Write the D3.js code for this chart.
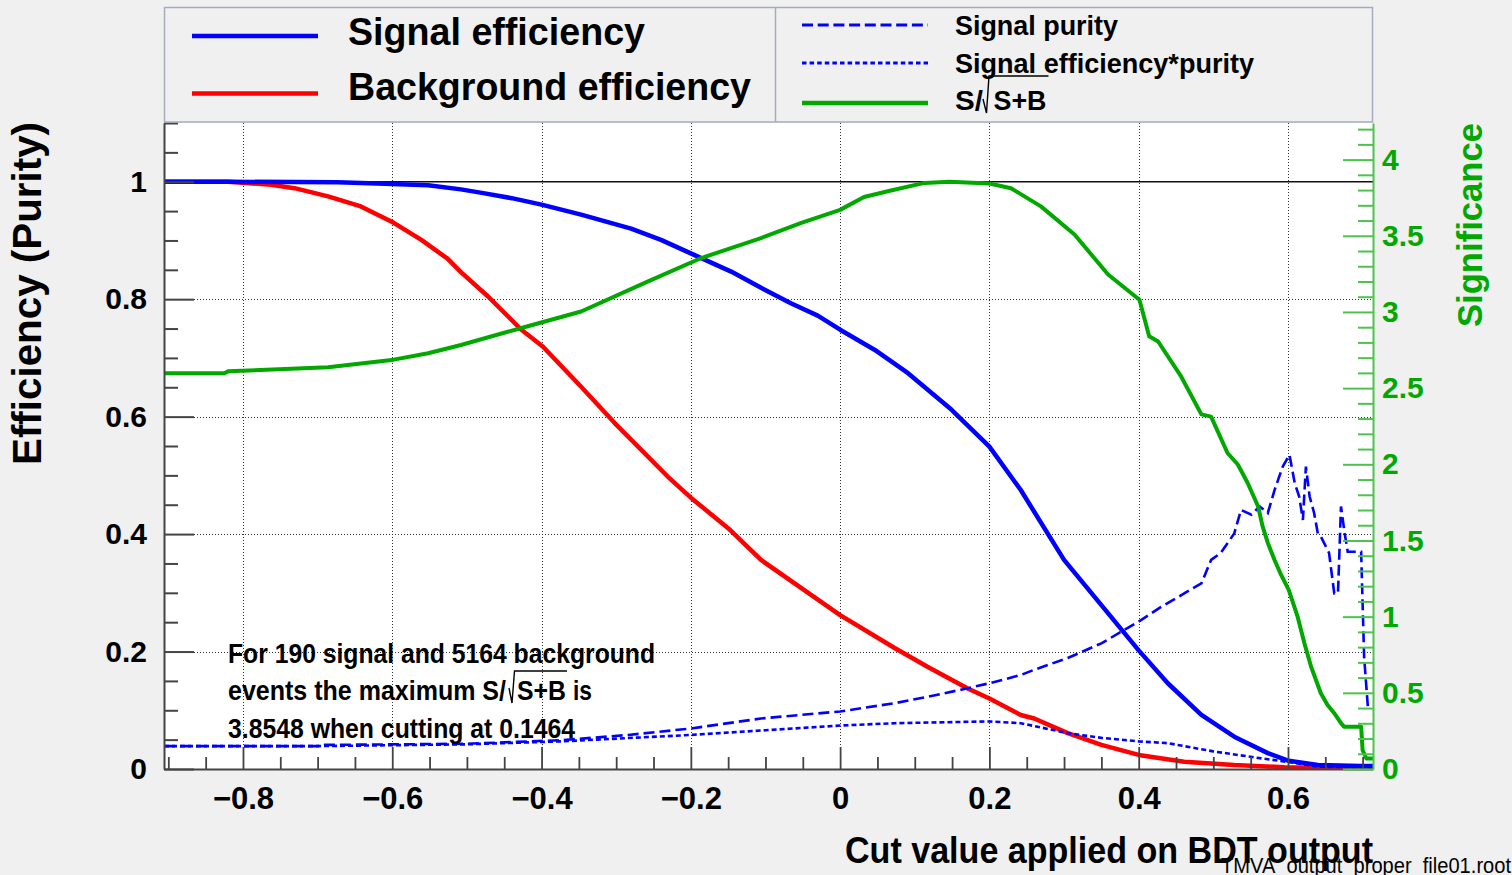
<!DOCTYPE html>
<html>
<head>
<meta charset="utf-8">
<script src="https://cdn.jsdelivr.net/npm/d3@7"></script>
<style>
  html, body { margin: 0; padding: 0; background: #f0f0f0; }
  svg { display: block; }
  text { font-family: "Liberation Sans", Arial, Helvetica, sans-serif; font-weight: bold; }
</style>
</head>
<body>
<svg id="chart" width="1512" height="875"></svg>
<script>
// ---- event counts and optimum cut ----
const nSignal = 190;
const nBackground = 5164;
const maxSignificance = 3.8548;
const optimalCut = 0.1464;

// ---- axis ranges and ticks ----
const cutRange = [-0.9058, 0.7139];
const effRange = [0, 1.1];
const sigRange = [0, maxSignificance * 1.1];

const cutTicks = [-0.8, -0.6, -0.4, -0.2, 0, 0.2, 0.4, 0.6];
const cutTickLabels = ["\u22120.8", "\u22120.6", "\u22120.4", "\u22120.2", "0", "0.2", "0.4", "0.6"];
const effTicks = [0, 0.2, 0.4, 0.6, 0.8, 1];
const effTickLabels = ["0", "0.2", "0.4", "0.6", "0.8", "1"];
const effGrid = [0.2, 0.4, 0.6, 0.8];
const sigTicks = [0, 0.5, 1, 1.5, 2, 2.5, 3, 3.5, 4];
const sigTickLabels = ["0", "0.5", "1", "1.5", "2", "2.5", "3", "3.5", "4"];

// ---- curves: [cut value, value] ----
const signalEfficiency = [
  [-0.9058, 1.000], [-0.82, 1.000], [-0.673, 0.999], [-0.62, 0.997], [-0.552, 0.994],
  [-0.508, 0.987], [-0.48, 0.981], [-0.44, 0.972], [-0.4, 0.961], [-0.347, 0.944],
  [-0.28, 0.920], [-0.24, 0.901], [-0.2, 0.878], [-0.146, 0.847], [-0.101, 0.816],
  [-0.066, 0.793], [-0.03, 0.772], [0, 0.748], [0.046, 0.714], [0.091, 0.674],
  [0.149, 0.612], [0.2, 0.549], [0.242, 0.475], [0.3, 0.356], [0.35, 0.279],
  [0.4, 0.202], [0.439, 0.146], [0.484, 0.092], [0.528, 0.055], [0.573, 0.027],
  [0.601, 0.014], [0.64, 0.007], [0.698, 0.005], [0.7139, 0.005]
];

const backgroundEfficiency = [
  [-0.9058, 1.000], [-0.82, 1.000], [-0.762, 0.995], [-0.731, 0.989], [-0.686, 0.975],
  [-0.642, 0.958], [-0.598, 0.930], [-0.561, 0.901], [-0.526, 0.869], [-0.508, 0.846],
  [-0.472, 0.805], [-0.427, 0.748], [-0.398, 0.719], [-0.347, 0.651], [-0.302, 0.589],
  [-0.231, 0.498], [-0.2, 0.462], [-0.15, 0.410], [-0.106, 0.356], [-0.061, 0.316],
  [0, 0.262], [0.073, 0.206], [0.117, 0.174], [0.171, 0.137], [0.2, 0.120],
  [0.242, 0.092], [0.26, 0.086], [0.305, 0.061], [0.35, 0.041], [0.4, 0.024],
  [0.461, 0.0125], [0.528, 0.0068], [0.595, 0.003], [0.7139, 0.001]
];

const signalPurity = [
  [-0.9058, 0.039], [-0.7, 0.039], [-0.69, 0.041], [-0.5, 0.043], [-0.374, 0.049],
  [-0.284, 0.058], [-0.2, 0.069], [-0.106, 0.086], [0, 0.098], [0.073, 0.112],
  [0.117, 0.123], [0.162, 0.135], [0.2, 0.146], [0.242, 0.160], [0.26, 0.169],
  [0.305, 0.189], [0.35, 0.214], [0.4, 0.251], [0.43, 0.276], [0.461, 0.299],
  [0.484, 0.316], [0.497, 0.356], [0.510, 0.368], [0.528, 0.401], [0.537, 0.441],
  [0.551, 0.433], [0.562, 0.447], [0.573, 0.436], [0.582, 0.475], [0.593, 0.515],
  [0.602, 0.535], [0.609, 0.487], [0.615, 0.464], [0.620, 0.424], [0.624, 0.515],
  [0.629, 0.464], [0.635, 0.436], [0.640, 0.401], [0.644, 0.396], [0.655, 0.368],
  [0.662, 0.299], [0.667, 0.299], [0.671, 0.447], [0.676, 0.401], [0.680, 0.370],
  [0.698, 0.370], [0.702, 0.191], [0.707, 0.106]
];

const signalEffTimesPurity = [
  [-0.9058, 0.039], [-0.7, 0.039], [-0.5, 0.042], [-0.374, 0.047], [-0.2, 0.058],
  [-0.1, 0.066], [0, 0.074], [0.073, 0.078], [0.2, 0.081], [0.242, 0.078],
  [0.305, 0.061], [0.35, 0.053], [0.4, 0.047], [0.439, 0.044], [0.5, 0.030],
  [0.565, 0.018], [0.6, 0.012], [0.64, 0.004], [0.7139, 0.002]
];

// S/sqrt(S+B), in significance units (right axis)
const significance = [
  [-0.9058, 2.598], [-0.825, 2.598], [-0.82, 2.610], [-0.686, 2.637], [-0.598, 2.687],
  [-0.552, 2.729], [-0.508, 2.783], [-0.427, 2.895], [-0.347, 3.003], [-0.258, 3.199],
  [-0.186, 3.354], [-0.106, 3.485], [-0.052, 3.585], [0, 3.670], [0.032, 3.755],
  [0.068, 3.797], [0.113, 3.847], [optimalCut, maxSignificance], [0.2, 3.843], [0.229, 3.812],
  [0.269, 3.693], [0.314, 3.508], [0.359, 3.246], [0.401, 3.080], [0.414, 2.841],
  [0.426, 2.806], [0.457, 2.575], [0.484, 2.328], [0.497, 2.313], [0.519, 2.074],
  [0.533, 1.997], [0.546, 1.877], [0.560, 1.723], [0.566, 1.592], [0.573, 1.484],
  [0.582, 1.372], [0.591, 1.272], [0.601, 1.176], [0.613, 0.998], [0.622, 0.825],
  [0.631, 0.671], [0.644, 0.497], [0.653, 0.420], [0.662, 0.366], [0.671, 0.301],
  [0.675, 0.278], [0.698, 0.278], [0.700, 0.123], [0.705, 0.069], [0.7139, 0.069]
];

// ---- colours ----
const BLUE = "#0000ff", RED = "#ff0000", GREEN = "#00a800", GREEN_AXIS = "#4cc44c";
const AXIS = "#444";

// ---- layout ----
const frame = { left: 164, right: 1373, top: 123, bottom: 769 };

const svg = d3.select("#chart");

const x = d3.scaleLinear().domain(cutRange).range([frame.left, frame.right]);
const yEff = d3.scaleLinear().domain(effRange).range([frame.bottom, frame.top]);
const ySig = d3.scaleLinear().domain(sigRange).range([frame.bottom, frame.top]);

// frame background
svg.append("rect")
  .attr("x", frame.left).attr("y", frame.top)
  .attr("width", frame.right - frame.left).attr("height", frame.bottom - frame.top)
  .attr("fill", "#ffffff");

// dotted grid
const grid = svg.append("g").attr("stroke", "#333").attr("stroke-width", 1)
  .attr("stroke-dasharray", "1,2").attr("fill", "none");
grid.selectAll("line.v").data(cutTicks).join("line")
  .attr("x1", d => Math.round(x(d)) + 0.5).attr("x2", d => Math.round(x(d)) + 0.5)
  .attr("y1", frame.top).attr("y2", frame.bottom);
grid.selectAll("line.h").data(effGrid).join("line")
  .attr("y1", d => Math.round(yEff(d)) + 0.5).attr("y2", d => Math.round(yEff(d)) + 0.5)
  .attr("x1", frame.left).attr("x2", frame.right);

// reference line at efficiency = 1
svg.append("line")
  .attr("x1", frame.left).attr("x2", frame.right)
  .attr("y1", yEff(1)).attr("y2", yEff(1))
  .attr("stroke", "#111").attr("stroke-width", 1.5);

// curves
svg.append("clipPath").attr("id", "frameClip").append("rect")
  .attr("x", frame.left).attr("y", frame.top - 2)
  .attr("width", frame.right - frame.left + 1).attr("height", frame.bottom - frame.top + 3);

const plot = svg.append("g").attr("clip-path", "url(#frameClip)");
const effLine = d3.line().x(d => x(d[0])).y(d => yEff(d[1]));
const sigLine = d3.line().x(d => x(d[0])).y(d => ySig(d[1]));

plot.append("path").datum(backgroundEfficiency).attr("d", effLine)
  .attr("fill", "none").attr("stroke", RED).attr("stroke-width", 4.5).attr("stroke-linejoin", "round");
plot.append("path").datum(signalEfficiency).attr("d", effLine)
  .attr("fill", "none").attr("stroke", BLUE).attr("stroke-width", 4.5).attr("stroke-linejoin", "round");
plot.append("path").datum(signalPurity).attr("d", effLine)
  .attr("fill", "none").attr("stroke", BLUE).attr("stroke-width", 2.6).attr("stroke-dasharray", "11,5");
plot.append("path").datum(signalEffTimesPurity).attr("d", effLine)
  .attr("fill", "none").attr("stroke", BLUE).attr("stroke-width", 2.6).attr("stroke-dasharray", "5,3");
plot.append("path").datum(significance).attr("d", sigLine)
  .attr("fill", "none").attr("stroke", GREEN).attr("stroke-width", 4).attr("stroke-linejoin", "round");

// ---- axes ----
function styleAxis(g, color, width, fontSize) {
  g.attr("font-family", null).attr("font-size", null);
  g.selectAll(".tick line").attr("stroke", color).attr("stroke-width", width);
  g.selectAll(".tick text").attr("font-size", fontSize).attr("fill", null);
}

// minor tick positions
const effMinor = d3.range(0, 23).filter(i => i % 4 !== 0).map(i => i * 0.05);
const cutMinor = d3.range(-18, 15).filter(i => i % 4 !== 0).map(i => i * 0.05);
const sigMinor = d3.range(0, 43).filter(i => i % 5 !== 0).map(i => i / 10);

// left axis (efficiency)
const gLeftMinor = svg.append("g").attr("transform", `translate(${frame.left},0)`)
  .call(d3.axisLeft(yEff).tickValues(effMinor).tickFormat("").tickSizeInner(-14).tickSizeOuter(0));
gLeftMinor.select(".domain").remove();
styleAxis(gLeftMinor, AXIS, 2, 30);

const gLeft = svg.append("g").attr("transform", `translate(${frame.left},0)`)
  .call(d3.axisLeft(yEff).tickValues(effTicks).tickFormat((d, i) => effTickLabels[i])
    .tickSizeInner(-30).tickSizeOuter(0).tickPadding(17));
gLeft.select(".domain").attr("stroke", AXIS).attr("stroke-width", 2);
styleAxis(gLeft, AXIS, 2, 30);
gLeft.selectAll(".tick text").attr("fill", "#000");

// bottom axis (cut value)
const gBottomMinor = svg.append("g").attr("transform", `translate(0,${frame.bottom})`)
  .call(d3.axisBottom(x).tickValues(cutMinor).tickFormat("").tickSizeInner(-12).tickSizeOuter(0));
gBottomMinor.select(".domain").remove();
styleAxis(gBottomMinor, AXIS, 1.8, 30);

const gBottom = svg.append("g").attr("transform", `translate(0,${frame.bottom})`)
  .call(d3.axisBottom(x).tickValues(cutTicks).tickFormat((d, i) => cutTickLabels[i])
    .tickSizeInner(-22).tickSizeOuter(0).tickPadding(18));
gBottom.select(".domain").attr("stroke", AXIS).attr("stroke-width", 2.2);
styleAxis(gBottom, AXIS, 1.8, 31);
gBottom.selectAll(".tick text").attr("fill", "#000");

// right axis (significance)
const gRightMinor = svg.append("g").attr("transform", `translate(${frame.right},0)`)
  .call(d3.axisRight(ySig).tickValues(sigMinor).tickFormat("").tickSizeInner(-15).tickSizeOuter(0));
gRightMinor.select(".domain").remove();
styleAxis(gRightMinor, GREEN_AXIS, 2, 30);

const gRight = svg.append("g").attr("transform", `translate(${frame.right},0)`)
  .call(d3.axisRight(ySig).tickValues(sigTicks).tickFormat((d, i) => sigTickLabels[i])
    .tickSizeInner(-30).tickSizeOuter(0).tickPadding(9));
gRight.select(".domain").attr("stroke", GREEN_AXIS).attr("stroke-width", 2);
styleAxis(gRight, GREEN_AXIS, 2, 30);
gRight.selectAll(".tick text").attr("fill", GREEN);

// ---- text helpers ----
function addText(parent, str, px, py, size, len, opts = {}) {
  const t = parent.append("text")
    .attr("x", px).attr("y", py)
    .attr("font-size", size)
    .attr("fill", opts.fill || "#000")
    .attr("text-anchor", opts.anchor || "start")
    .text(str);
  if (len) t.attr("textLength", len).attr("lengthAdjust", "spacingAndGlyphs");
  if (opts.weight) t.style("font-weight", opts.weight);
  if (opts.rotate) t.attr("transform", `rotate(${opts.rotate},${px},${py})`);
  return t;
}

function radical(parent, pts) {
  parent.append("path")
    .attr("d", d3.line()(pts))
    .attr("fill", "none").attr("stroke", "#000").attr("stroke-width", 1.4);
}

// axis titles
addText(svg, "Cut value applied on BDT output", frame.right, 863, 37, 528, { anchor: "end" });
addText(svg, "Efficiency (Purity)", 41, 293.5, 40, 343, { anchor: "middle", rotate: -90 });
addText(svg, "Significance", 1482, 225, 35, 204, { anchor: "middle", rotate: -90, fill: GREEN });
addText(svg, "TMVA_output_proper_file01.root", 1221, 873.3, 22, 290, { weight: "normal" });

// ---- legend ----
const legend = svg.append("g");
legend.append("rect")
  .attr("x", frame.left + 0.5).attr("y", 7.5)
  .attr("width", frame.right - frame.left - 1).attr("height", 114.5)
  .attr("fill", "#f0f0f0").attr("stroke", "#a4acbe").attr("stroke-width", 1.5);
legend.append("line")
  .attr("x1", 775.5).attr("x2", 775.5).attr("y1", 7.5).attr("y2", 122)
  .attr("stroke", "#a4acbe").attr("stroke-width", 1.5);

const legendSwatch = (y, color, width, dash) => legend.append("line")
  .attr("x1", 0).attr("x2", 0).attr("y1", y).attr("y2", y)
  .attr("stroke", color).attr("stroke-width", width).attr("stroke-dasharray", dash || null);

legendSwatch(36, BLUE, 4.3).attr("x1", 192).attr("x2", 318);
legendSwatch(93.5, RED, 4.3).attr("x1", 192).attr("x2", 318);
legendSwatch(25, BLUE, 3, "11,4.7").attr("x1", 802).attr("x2", 928);
legendSwatch(63, BLUE, 3, "4.5,3.1").attr("x1", 802).attr("x2", 928);
legendSwatch(103, GREEN, 4.3).attr("x1", 802).attr("x2", 928);

addText(legend, "Signal efficiency", 348, 45, 39, 297);
addText(legend, "Background efficiency", 348, 100, 39, 403);
addText(legend, "Signal purity", 955, 35, 28, 163);
addText(legend, "Signal efficiency*purity", 955, 72.7, 28, 299);
addText(legend, "S/", 955, 110, 28, 28);
addText(legend, "S+B", 993.5, 110, 28, 53);
radical(legend, [[983, 99], [986.5, 113], [989, 76], [1048.5, 76]]);

// ---- result annotation ----
const note = svg.append("g");
addText(note, `For ${nSignal} signal and ${nBackground} background`, 228, 663, 28, 427);
addText(note, "events the maximum S/", 228, 700, 28, 278);
addText(note, "S+B", 517, 700, 28, 49);
addText(note, "is", 573, 700, 28, 19);
radical(note, [[509, 688], [512, 703], [514.5, 671], [567, 671]]);
addText(note, `${maxSignificance.toFixed(4)} when cutting at ${optimalCut.toFixed(4)}`, 228, 738, 28, 347);
</script>
</body>
</html>
